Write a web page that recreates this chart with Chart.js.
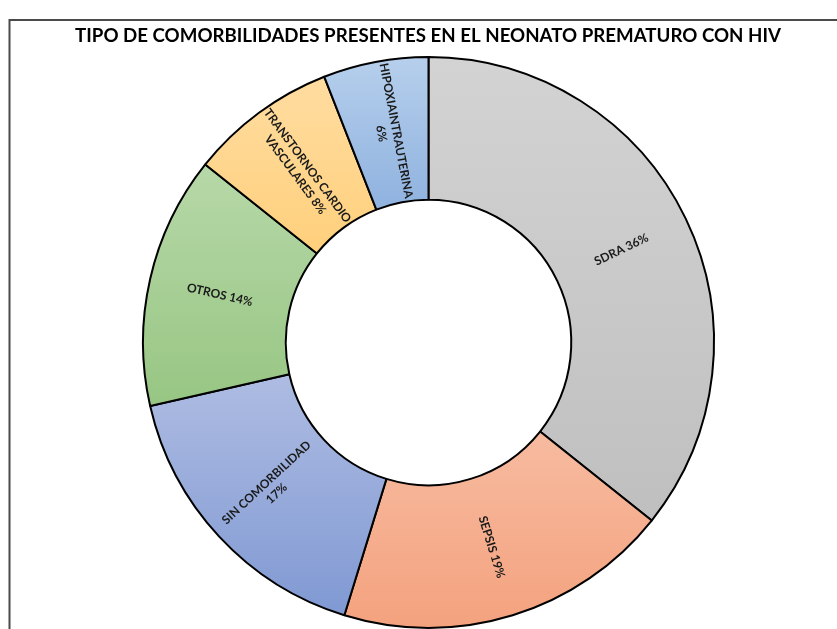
<!DOCTYPE html>
<html>
<head>
<meta charset="utf-8">
<script src="https://cdn.jsdelivr.net/npm/chart.js@4/dist/chart.umd.min.js"></script>
<style>
  html, body { margin: 0; padding: 0; background: #ffffff; }
  #wrap { width: 837px; height: 629px; position: relative; }
</style>
</head>
<body>
<div id="wrap"><canvas id="c" width="837" height="629"></canvas></div>
<script>
const chartTitle = 'TIPO DE COMORBILIDADES PRESENTES EN EL NEONATO PREMATURO CON HIV';
const categories = ['SDRA', 'SEPSIS', 'SIN COMORBILIDAD', 'OTROS', 'TRANSTORNOS CARDIO VASCULARES', 'HIPOXIAINTRAUTERINA'];
const values = [30, 16, 14, 12, 7, 5];
const percentLabels = ['36%', '19%', '17%', '14%', '8%', '6%'];
const labelLines = [
  ['SDRA ' + percentLabels[0]],
  ['SEPSIS ' + percentLabels[1]],
  ['SIN COMORBILIDAD', percentLabels[2]],
  ['OTROS ' + percentLabels[3]],
  ['TRANSTORNOS CARDIO', 'VASCULARES ' + percentLabels[4]],
  ['HIPOXIAINTRAUTERINA', percentLabels[5]]
];
const topColors = ['#d3d3d3', '#f7bba0', '#aebce2', '#b7d8a8', '#ffdca0', '#b6cfec'];
const bottomColors = ['#bfbfbf', '#f4a27e', '#8099d3', '#97c683', '#ffd07c', '#8fb2df'];

function arcYRange(a) {
  let minY = Infinity, maxY = -Infinity;
  const n = 60;
  for (let i = 0; i <= n; i++) {
    const ang = a.startAngle + (a.endAngle - a.startAngle) * i / n;
    for (const r of [a.innerRadius, a.outerRadius]) {
      const y = a.y + Math.sin(ang) * r;
      if (y < minY) minY = y;
      if (y > maxY) maxY = y;
    }
  }
  return [minY, maxY];
}

const decorPlugin = {
  id: 'decor',
  beforeDraw(chart) {
    const ctx = chart.ctx;
    ctx.save();
    ctx.strokeStyle = '#4a4a4a';
    ctx.lineWidth = 2;
    ctx.beginPath();
    ctx.moveTo(9.5, 629);
    ctx.lineTo(9.5, 20);
    ctx.lineTo(837, 20);
    ctx.stroke();
    ctx.font = 'bold 100px Lato';
    const w100 = ctx.measureText(chartTitle).width;
    const size = 100 * 706 / w100;
    ctx.font = 'bold ' + size.toFixed(2) + 'px Lato';
    ctx.fillStyle = '#000000';
    ctx.textAlign = 'center';
    ctx.textBaseline = 'middle';
    ctx.fillText(chartTitle, 428, 36);
    ctx.restore();
  },
  beforeDatasetsDraw(chart) {
    const meta = chart.getDatasetMeta(0);
    const ctx = chart.ctx;
    meta.data.forEach((arc, i) => {
      const p = arc.getProps(['x', 'y', 'startAngle', 'endAngle', 'innerRadius', 'outerRadius'], true);
      const [y0, y1] = arcYRange(p);
      const g = ctx.createLinearGradient(0, y0, 0, y1);
      g.addColorStop(0, topColors[i]);
      g.addColorStop(1, bottomColors[i]);
      arc.options.backgroundColor = g;
    });
  },
  afterDatasetsDraw(chart) {
    const meta = chart.getDatasetMeta(0);
    const ctx = chart.ctx;
    ctx.save();
    ctx.font = 'bold 12px Lato';
    ctx.fillStyle = '#1a1a1a';
    ctx.textAlign = 'center';
    ctx.textBaseline = 'middle';
    meta.data.forEach((arc, i) => {
      const p = arc.getProps(['x', 'y', 'startAngle', 'endAngle', 'innerRadius', 'outerRadius'], true);
      const mid = (p.startAngle + p.endAngle) / 2;
      const r = (p.innerRadius + p.outerRadius) / 2;
      const cx = p.x + Math.cos(mid) * r;
      const cy = p.y + Math.sin(mid) * r;
      let rot = mid;
      if (Math.cos(rot) < 0) rot += Math.PI;
      const lines = labelLines[i];
      const lh = 15;
      ctx.save();
      ctx.translate(cx, cy);
      ctx.rotate(rot);
      lines.forEach((t, k) => {
        ctx.fillText(t, 0, (k - (lines.length - 1) / 2) * lh);
      });
      ctx.restore();
    });
    ctx.restore();
  }
};

new Chart(document.getElementById('c'), {
  type: 'doughnut',
  data: {
    labels: categories,
    datasets: [{
      data: values,
      backgroundColor: topColors,
      borderColor: '#000000',
      borderWidth: 2
    }]
  },
  options: {
    responsive: false,
    animation: false,
    cutout: '50%',
    layout: { padding: { left: 20, right: 0, top: 56, bottom: 0 } },
    plugins: {
      legend: { display: false },
      title: { display: false },
      tooltip: { enabled: false }
    }
  },
  plugins: [decorPlugin]
});
</script>
</body>
</html>
